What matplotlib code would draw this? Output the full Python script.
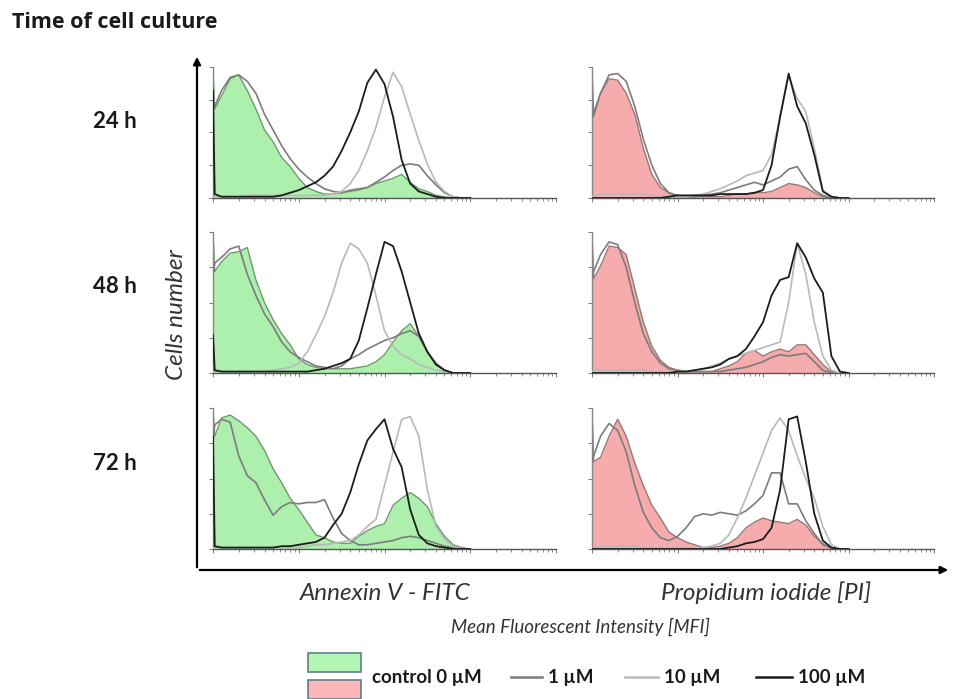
import matplotlib.pyplot as plt
from matplotlib.patches import Rectangle, FancyArrowPatch
from matplotlib.lines import Line2D
import numpy as np

W, H = 963, 699

# log10(MFI) of each histogram point; the first two give the first-bin spike
log_mfi = [0, 0.02, 0.1, 0.2, 0.3, 0.4, 0.5, 0.6, 0.7, 0.8, 0.9, 1.0,
           1.1, 1.2, 1.3, 1.4, 1.5, 1.6, 1.7, 1.8, 1.9, 2.0, 2.1,
           2.2, 2.3, 2.4, 2.5, 2.6, 2.7, 2.8, 2.9, 3.0]

times = ['24 h', '48 h', '72 h']
stains = ['Annexin V - FITC', 'Propidium iodide [PI]']
doses = ['control 0 \u00b5M', '1 \u00b5M', '10 \u00b5M', '100 \u00b5M']

# cell counts, % of the highest bin
# Annexin V - FITC
anx24_ctrl = [100, 68, 78, 91, 94, 82, 68, 52, 43, 31, 24, 15, 8, 5, 3, 3, 4, 5, 6, 8, 11, 13, 15, 18, 12, 7, 5, 2, 1, 0, 0, 0]
anx24_1 = [68, 70, 82, 92, 94, 89, 80, 64, 52, 40, 30, 22, 16, 11, 7, 5, 4, 6, 7, 8, 12, 16, 21, 25, 26, 25, 17, 10, 4, 1, 0, 0]
anx24_10 = [0, 1, 1, 1, 1, 2, 2, 2, 2, 2, 2, 2, 2, 2, 2, 3, 5, 11, 21, 36, 54, 77, 96, 85, 64, 44, 26, 12, 5, 1, 0, 0]
anx24_100 = [82, 3, 1, 1, 1, 1, 1, 1, 1, 2, 4, 6, 9, 12, 17, 24, 36, 50, 66, 88, 98, 87, 62, 29, 11, 5, 3, 1, 0, 0, 0, 0]

anx48_ctrl = [100, 72, 79, 85, 86, 89, 66, 50, 38, 28, 20, 10, 6, 4, 3, 3, 3, 3, 4, 5, 8, 13, 22, 30, 35, 26, 15, 6, 2, 0, 0, 0]
anx48_1 = [70, 78, 82, 88, 90, 70, 55, 42, 33, 22, 15, 11, 8, 5, 4, 3, 5, 10, 13, 17, 20, 23, 25, 28, 30, 26, 15, 7, 2, 0, 0, 0]
anx48_10 = [0, 1, 1, 1, 1, 1, 1, 1, 2, 3, 4, 7, 15, 27, 40, 57, 78, 92, 88, 78, 55, 30, 19, 13, 10, 6, 4, 2, 1, 0, 0, 0]
anx48_100 = [27, 2, 1, 1, 1, 1, 1, 1, 1, 1, 1, 1, 1, 2, 3, 5, 7, 10, 23, 46, 70, 93, 90, 72, 50, 28, 15, 6, 2, 0, 0, 0]

anx72_ctrl = [100, 80, 93, 95, 91, 86, 80, 70, 57, 47, 36, 28, 19, 10, 8, 5, 4, 4, 9, 13, 16, 18, 31, 36, 40, 36, 30, 18, 9, 3, 1, 0]
anx72_1 = [75, 88, 92, 90, 66, 52, 47, 35, 24, 30, 33, 32, 33, 33, 35, 22, 11, 6, 3, 3, 4, 5, 6, 8, 9, 8, 6, 4, 2, 1, 0, 0]
anx72_10 = [0, 1, 1, 1, 1, 1, 1, 1, 1, 1, 1, 1, 2, 3, 3, 4, 5, 6, 10, 16, 21, 45, 69, 92, 94, 80, 42, 16, 7, 2, 0, 0]
anx72_100 = [80, 2, 1, 1, 1, 1, 1, 1, 1, 2, 2, 3, 4, 5, 8, 17, 25, 40, 60, 77, 85, 92, 71, 58, 28, 10, 4, 2, 1, 0, 0, 0]

# Propidium iodide
pi24_ctrl = [100, 62, 80, 91, 90, 80, 64, 38, 18, 8, 4, 1, 1, 1, 1, 1, 1, 2, 3, 3, 4, 4, 5, 8, 11, 10, 8, 4, 1, 0, 0, 0]
pi24_1 = [62, 65, 80, 94, 95, 89, 70, 45, 25, 11, 4, 2, 1, 1, 2, 3, 4, 6, 8, 10, 12, 10, 13, 16, 22, 24, 14, 6, 2, 0, 0, 0]
pi24_10 = [0, 2, 3, 3, 3, 3, 3, 3, 2, 1, 1, 1, 1, 2, 3, 5, 7, 10, 13, 17, 19, 21, 33, 62, 93, 76, 66, 38, 6, 1, 0, 0]
pi24_100 = [0, 0, 0, 0, 0, 0, 0, 0, 0, 0, 1, 2, 2, 2, 2, 2, 3, 3, 3, 3, 4, 6, 25, 62, 95, 70, 57, 33, 5, 1, 0, 0]

pi48_ctrl = [100, 67, 76, 90, 89, 84, 60, 36, 19, 9, 4, 2, 1, 1, 1, 1, 3, 5, 8, 14, 16, 12, 15, 17, 15, 20, 20, 13, 6, 1, 0, 0]
pi48_1 = [70, 72, 84, 93, 91, 75, 50, 28, 15, 7, 3, 2, 1, 1, 1, 1, 1, 2, 3, 4, 6, 8, 11, 13, 12, 13, 14, 8, 2, 0, 0, 0]
pi48_10 = [0, 2, 2, 2, 2, 2, 2, 2, 1, 1, 1, 1, 1, 2, 3, 5, 7, 10, 12, 14, 16, 18, 20, 22, 50, 92, 70, 36, 12, 2, 0, 0]
pi48_100 = [0, 0, 0, 0, 0, 0, 0, 0, 0, 0, 0, 1, 1, 2, 3, 4, 6, 10, 12, 17, 26, 36, 55, 66, 68, 92, 82, 67, 57, 12, 1, 0]

pi72_ctrl = [100, 62, 65, 80, 92, 80, 61, 45, 31, 22, 12, 8, 5, 3, 1, 1, 2, 4, 8, 15, 19, 22, 20, 19, 18, 21, 17, 9, 4, 0, 0, 0]
pi72_1 = [62, 66, 80, 89, 84, 69, 45, 26, 15, 8, 6, 9, 15, 23, 25, 24, 26, 25, 24, 27, 32, 38, 54, 54, 32, 32, 20, 11, 3, 1, 0, 0]
pi72_10 = [0, 1, 2, 2, 2, 2, 2, 1, 1, 1, 1, 1, 1, 1, 1, 2, 4, 10, 22, 36, 52, 68, 84, 93, 84, 66, 50, 36, 16, 3, 0, 0]
pi72_100 = [0, 0, 0, 0, 0, 0, 0, 0, 0, 0, 0, 0, 0, 0, 0, 0, 0, 1, 2, 4, 5, 7, 15, 42, 92, 94, 62, 25, 6, 1, 0, 0]

annexin = [(anx24_ctrl, anx24_1, anx24_10, anx24_100),
           (anx48_ctrl, anx48_1, anx48_10, anx48_100),
           (anx72_ctrl, anx72_1, anx72_10, anx72_100)]
pi = [(pi24_ctrl, pi24_1, pi24_10, pi24_100),
      (pi48_ctrl, pi48_1, pi48_10, pi48_100),
      (pi72_ctrl, pi72_1, pi72_10, pi72_100)]

fill_cols = ['#adefad', '#f6acac']
edge_cols = ['#6f9a6f', '#9a7676']
line_cols = ['#7c7c7c', '#b9b9b9', '#1c1c1c']

FONT = ['Lato', 'DejaVu Sans']

def fx(px):
    return px / W

def fy(py):
    return 1 - py / H

fig = plt.figure(figsize=(W / 100, H / 100), dpi=100)

cols_px = [(213, 556), (592, 934)]
rows_px = [(67, 198), (232, 373), (408, 549)]

x = 10 ** np.array(log_mfi)

for c, stain_data in enumerate([annexin, pi]):
    for r, curves in enumerate(stain_data):
        x0, x1 = cols_px[c]
        top, bot = rows_px[r]
        ax = fig.add_axes([fx(x0), fy(bot), (x1 - x0) / W, (bot - top) / H])
        ctrl, c1, c10, c100 = curves
        ax.fill_between(x, ctrl, 0, color=fill_cols[c], lw=0, zorder=1)
        ax.plot(x, ctrl, color=edge_cols[c], lw=1.0, zorder=2)
        ax.plot(x, c1, color=line_cols[0], lw=1.2, zorder=3)
        ax.plot(x, c10, color=line_cols[1], lw=1.2, zorder=3)
        ax.plot(x, c100, color=line_cols[2], lw=1.3, zorder=4)

        ax.set_xscale('log')
        ax.set_xlim(1, 1e4)
        ax.set_ylim(0, 100)
        ax.set_yticks([0, 25, 50, 75, 100])
        ax.tick_params(axis='both', which='major', direction='out', length=3,
                       width=0.7, colors='#777777', labelbottom=False, labelleft=False)
        ax.tick_params(axis='x', which='minor', direction='out', length=2,
                       width=0.6, colors='#777777')
        for s in ['top', 'right']:
            ax.spines[s].set_visible(False)
        ax.spines['left'].set_color('#888888')
        ax.spines['bottom'].set_color('#555555')
        ax.spines['left'].set_linewidth(1.0)
        ax.spines['bottom'].set_linewidth(1.0)
        ax.patch.set_alpha(0)

# the L-shaped axis arrows
origin = (fx(197), fy(570))
fig.add_artist(FancyArrowPatch(origin, (fx(197), fy(54)), transform=fig.transFigure,
                               arrowstyle='-|>', mutation_scale=11, lw=1.6, color='black'))
fig.add_artist(FancyArrowPatch(origin, (fx(951), fy(570)), transform=fig.transFigure,
                               arrowstyle='-|>', mutation_scale=11, lw=1.6, color='black'))

fig.text(fx(12), fy(22), 'Time of cell culture', fontsize=15.5, fontweight='bold',
         family=['Open Sans', 'DejaVu Sans'], va='center', ha='left', color='#1a1a1a')
for r, t in enumerate(times):
    top, bot = rows_px[r]
    fig.text(fx(115), fy(top + 55), t, fontsize=16, fontweight='bold',
             family=FONT, va='center', ha='center', color='#1a1a1a')

fig.text(fx(176), fy(315), 'Cells number', fontsize=17.5, style='italic',
         family=FONT, rotation=90, va='center', ha='center', color='#333333')
fig.text(fx(385), fy(593), stains[0], fontsize=17.5, style='italic',
         family=FONT, va='center', ha='center', color='#333333')
fig.text(fx(766), fy(593), stains[1], fontsize=17.5, style='italic',
         family=FONT, va='center', ha='center', color='#333333')
fig.text(fx(580), fy(627), 'Mean Fluorescent Intensity [MFI]', fontsize=13.5,
         style='italic', family=FONT, va='center', ha='center', color='#333333')

# legend
fig.add_artist(Rectangle((fx(308), fy(672)), 53 / W, 19 / H, transform=fig.transFigure,
                         facecolor='#b4f6b4', edgecolor='#5f7f8c', lw=1.2))
fig.add_artist(Rectangle((fx(308), fy(699)), 53 / W, 19 / H, transform=fig.transFigure,
                         facecolor='#ffb6b6', edgecolor='#5f7f8c', lw=1.2))
ly = fy(677)
fig.text(fx(372), ly, doses[0], fontsize=13.5, fontweight='bold', family=FONT,
         va='center', ha='left', color='#1a1a1a')
leg_x = [(511, 542, 548), (625, 658, 664), (756, 792, 798)]
for (a, b, t), col, lab in zip(leg_x, line_cols, doses[1:]):
    fig.add_artist(Line2D([fx(a), fx(b)], [ly, ly], transform=fig.transFigure,
                          color=col, lw=1.8))
    fig.text(fx(t), ly, lab, fontsize=13.5, fontweight='bold', family=FONT,
             va='center', ha='left', color='#1a1a1a')

fig.savefig('out.png', dpi=100)
